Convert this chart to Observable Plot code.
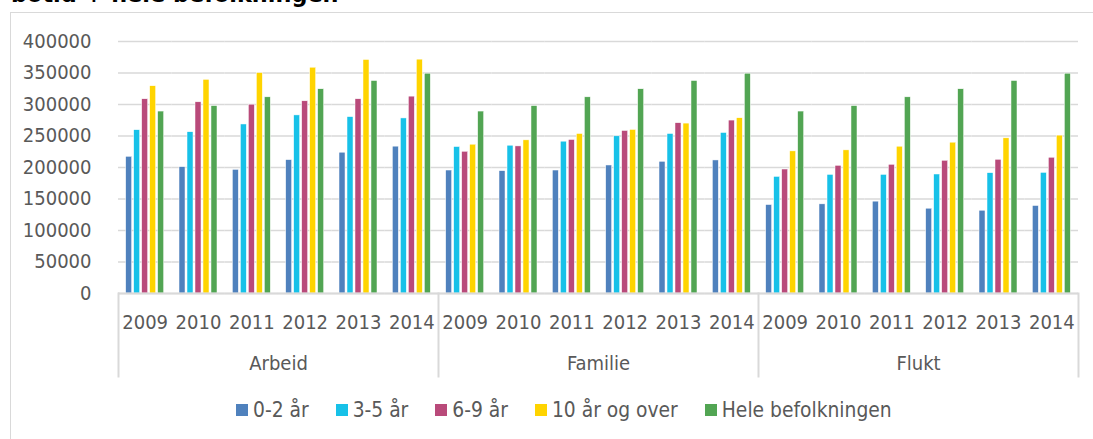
<!DOCTYPE html>
<html>
<head>
<meta charset="utf-8">
<script src="https://cdn.jsdelivr.net/npm/d3@7"></script>
<script src="https://cdn.jsdelivr.net/npm/@observablehq/plot@0.6"></script>
<style>
  html, body { margin: 0; padding: 0; background: #fff; }
  #wrap { position: relative; width: 1093px; height: 439px; overflow: hidden; font-family: "DejaVu Sans Condensed", "DejaVu Sans", sans-serif; }
  #title { position: absolute; left: 11px; top: -17px; font-family: "DejaVu Sans", sans-serif; font-weight: bold; font-size: 22.4px; color: #000; white-space: nowrap; line-height: 23px; }
  #box { position: absolute; left: 10px; top: 12px; width: 1100px; height: 500px; border: 1.5px solid #d9d9d9; box-sizing: border-box; }
  #chart { position: absolute; left: 0; top: 0; }
  #legend { position: absolute; left: 236px; top: 398px; display: flex; align-items: center; font-size: 20.8px; color: #595959; white-space: nowrap; }
  .item { display: flex; align-items: center; margin-right: 27px; }
  .sw { width: 12px; height: 12px; margin-right: 5px; }
</style>
</head>
<body>
<div id="wrap">
  <div id="title">botid + hele befolkningen</div>
  <div id="box"></div>
  <div id="chart"></div>
  <div id="legend"></div>
</div>
<script>
const groups = ["Arbeid", "Familie", "Flukt"];
const years = ["2009", "2010", "2011", "2012", "2013", "2014"];
const series = ["0-2 år", "3-5 år", "6-9 år", "10 år og over", "Hele befolkningen"];
const colors = ["#4F81BD", "#17C1E8", "#B94A7A", "#FFD400", "#52A553"];
const yTicks = [0, 50000, 100000, 150000, 200000, 250000, 300000, 350000, 400000];

const arbeid_0_2 = [217000, 200500, 196300, 211700, 223500, 233100];
const arbeid_3_5 = [259200, 256000, 268300, 282700, 280000, 277900];
const arbeid_6_9 = [308300, 303500, 299700, 305100, 308300, 312500];
const arbeid_10 = [329000, 339200, 349900, 358400, 370700, 371200];
const familie_0_2 = [195200, 194200, 195200, 203200, 209100, 211200];
const familie_3_5 = [232500, 234600, 241000, 249500, 253200, 254800];
const familie_6_9 = [225000, 233500, 243700, 258000, 270300, 274500];
const familie_10 = [236200, 243100, 253200, 259600, 269700, 278200];
const flukt_0_2 = [140400, 141500, 145800, 134600, 131400, 138900];
const flukt_3_5 = [185100, 188300, 188300, 188900, 191000, 191500];
const flukt_6_9 = [196800, 202700, 204300, 210700, 212300, 215500];
const flukt_10 = [225600, 227200, 233000, 239400, 246300, 250600];
const hele = [288800, 297500, 311400, 324200, 337300, 348900];

const byGroup = {
  Arbeid: [arbeid_0_2, arbeid_3_5, arbeid_6_9, arbeid_10, hele],
  Familie: [familie_0_2, familie_3_5, familie_6_9, familie_10, hele],
  Flukt: [flukt_0_2, flukt_3_5, flukt_6_9, flukt_10, hele]
};

const keys = [];
const data = [];
for (const g of groups) {
  years.forEach((y, yi) => {
    const key = g + "|" + y;
    keys.push(key);
    series.forEach((s, si) => data.push({key, group: g, year: y, series: s, value: byGroup[g][si][yi]}));
  });
}

const gridColor = "#d9d9d9";

const chart = Plot.plot({
  width: 1093,
  height: 385,
  marginLeft: 118,
  marginRight: 15,
  marginTop: 41,
  marginBottom: 92,
  style: {fontFamily: "'DejaVu Sans Condensed', 'DejaVu Sans', sans-serif", fontSize: "20px", color: "#595959", background: "transparent", overflow: "visible"},
  fx: {domain: keys, padding: 0, round: false, label: null},
  x: {domain: series, paddingInner: 0.25, paddingOuter: 0.96, round: false, axis: null},
  y: {domain: [0, 400000], label: null},
  color: {domain: series, range: colors},
  marks: [
    Plot.gridY(yTicks, {stroke: gridColor, strokeOpacity: 1, strokeWidth: 1.6}),
    Plot.axisY(yTicks, {tickSize: 0, tickPadding: 27, tickFormat: d => String(d), label: null, fill: "#595959", fontSize: 20}),
    Plot.axisFx({anchor: "bottom", tickSize: 0, tickPadding: 21, tickFormat: k => k.split("|")[1], label: null, fill: "#595959", fontSize: 20}),
    Plot.barY(data, {fx: "key", x: "series", y: "value", fill: "series", stroke: "white", strokeWidth: 0.5}),
    Plot.ruleY([0], {stroke: gridColor, strokeWidth: 2}),
    ...groups.map(g => Plot.frame({anchor: "left", fx: () => g + "|2009", stroke: gridColor, strokeWidth: 2, insetTop: 252, insetBottom: -83})),
    Plot.frame({anchor: "right", fx: () => "Flukt|2014", stroke: gridColor, strokeWidth: 2, insetTop: 252, insetBottom: -83}),
    Plot.text(groups, {fx: g => g + "|2011", text: g => g, frameAnchor: "bottom-right", textAnchor: "middle", lineAnchor: "middle", dy: 70, fill: "#595959", fontSize: 20})
  ]
});
document.getElementById("chart").appendChild(chart);

const legend = document.getElementById("legend");
series.forEach((s, i) => {
  const item = document.createElement("div");
  item.className = "item";
  const sw = document.createElement("div");
  sw.className = "sw";
  sw.style.background = colors[i];
  const t = document.createElement("span");
  t.textContent = s;
  item.appendChild(sw);
  item.appendChild(t);
  legend.appendChild(item);
});
</script>
</body>
</html>
